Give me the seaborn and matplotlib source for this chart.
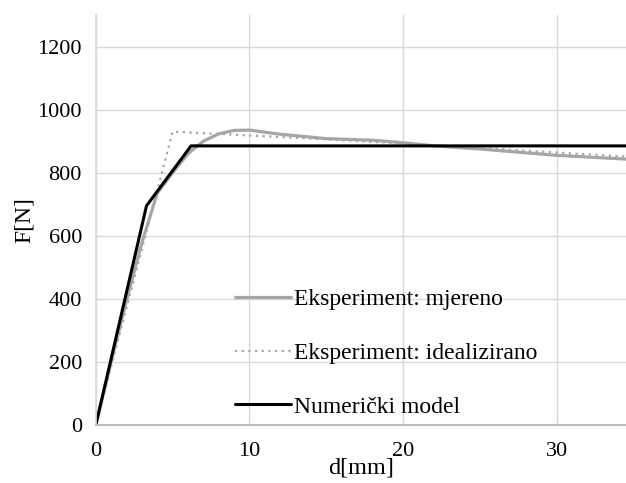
import pandas as pd
import matplotlib.pyplot as plt
import seaborn as sns

# Eksperiment: mjereno (measured)
d_mjereno = [0, 1, 2, 3, 4, 5, 6, 7, 8, 9, 10, 12, 15, 18, 20, 22, 25, 30, 34.5]
f_mjereno = [0, 200, 395, 578, 735, 800, 860, 900, 923, 934, 935, 922, 908, 903, 895, 885, 875, 855, 843]

# Eksperiment: idealizirano (idealised)
d_ideal = [0, 3.5, 5.0, 10, 20, 30, 34.5]
f_ideal = [0, 650, 930, 918, 893, 864, 851]

# Numerički model
d_num = [0, 3.3, 6.2, 34.5]
f_num = [0, 695, 885, 885]

sns.set_theme(style="white")
plt.rcParams['font.family'] = ['Liberation Serif', 'DejaVu Serif']
plt.rcParams['text.color'] = 'black'
plt.rcParams['xtick.color'] = 'black'
plt.rcParams['ytick.color'] = 'black'
plt.rcParams['axes.labelcolor'] = 'black'

fig, ax = plt.subplots(figsize=(6.26, 4.83), dpi=100)
fig.subplots_adjust(left=0.153, right=1.0, top=0.969, bottom=0.12)

sns.lineplot(x=d_mjereno, y=f_mjereno, ax=ax, sort=False, color='#a6a6a6',
             linewidth=2.3, label='Eksperiment: mjereno')
sns.lineplot(x=d_ideal, y=f_ideal, ax=ax, sort=False, color='#a6a6a6',
             linewidth=1.6, linestyle=(0, (1, 2)), label='Eksperiment: idealizirano')
sns.lineplot(x=d_num, y=f_num, ax=ax, sort=False, color='black',
             linewidth=2.2, label='Numerički model')

ax.set_xlim(0, 34.5)
ax.set_ylim(0, 1300)
ax.set_xticks([0, 10, 20, 30])
ax.set_yticks([0, 200, 400, 600, 800, 1000, 1200])
ax.grid(True, color='#d9d9d9', linewidth=1.0)
ax.tick_params(axis='both', labelsize=16, length=0)
ax.tick_params(axis='x', pad=12)
ax.tick_params(axis='y', pad=10)
for s in ['top', 'right']:
    ax.spines[s].set_visible(False)
ax.spines['left'].set_color('#d9d9d9')
ax.spines['bottom'].set_color('#bfbfbf')
ax.spines['bottom'].set_linewidth(1.5)

ax.set_xlabel('d[mm]', fontsize=17.5, labelpad=-2)
ax.set_ylabel('F[N]', fontsize=17, labelpad=2)

ax.legend(loc='lower left', bbox_to_anchor=(0.222, -0.034), frameon=False,
          fontsize=17, handlelength=2.4, handletextpad=0.1, labelspacing=1.37)

fig.savefig('out.png')
